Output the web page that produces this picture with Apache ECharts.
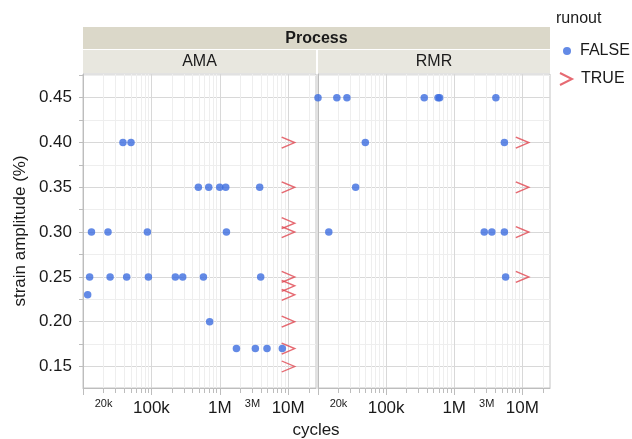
<!DOCTYPE html>
<html><head><meta charset="utf-8">
<script src="https://cdn.jsdelivr.net/npm/echarts@6/dist/echarts.min.js"></script>
<style>html,body{margin:0;padding:0;background:#fff}#c{width:632px;height:439px}</style>
</head><body><div id="c"></div>
<script>
// ---- data ----
const panels = ['AMA', 'RMR'];
const amaFalseCycles = [38400, 50300, 486000, 689000, 997000, 1220000, 3830000, 13300, 23200, 87400, 1250000, 12500, 24900, 43500, 90400, 224000, 287000, 576000, 3960000, 11700, 711000, 1750000, 3310000, 4900000, 8200000];
const amaFalseStrain = [0.40, 0.40, 0.35, 0.35, 0.35, 0.35, 0.35, 0.30, 0.30, 0.30, 0.30, 0.25, 0.25, 0.25, 0.25, 0.25, 0.25, 0.25, 0.25, 0.23, 0.20, 0.17, 0.17, 0.17, 0.17];
const amaTrueCycles = [1e7, 1e7, 1e7, 1e7, 1e7, 1e7, 1e7, 1e7, 1e7, 1e7];
const amaTrueStrain = [0.40, 0.35, 0.31, 0.30, 0.25, 0.24, 0.23, 0.20, 0.17, 0.15];
const rmrFalseCycles = [10000, 18900, 26600, 363000, 579000, 611000, 4090000, 49500, 5450000, 35700, 14400, 2760000, 3570000, 5450000, 5690000];
const rmrFalseStrain = [0.45, 0.45, 0.45, 0.45, 0.45, 0.45, 0.45, 0.40, 0.40, 0.35, 0.30, 0.30, 0.30, 0.30, 0.25];
const rmrTrueCycles = [1e7, 1e7, 1e7, 1e7];
const rmrTrueStrain = [0.40, 0.35, 0.30, 0.25];

const xMajorTicks = [1e4, 1e5, 1e6, 1e7];
const xMajorLabels = [1e5, 1e6, 1e7];
const xMinorTicks = [2e4,3e4,4e4,5e4,6e4,7e4,8e4,9e4, 2e5,3e5,4e5,5e5,6e5,7e5,8e5,9e5, 2e6,3e6,4e6,5e6,6e6,7e6,8e6,9e6, 2e7];
const xMinorLabels = [2e4, 3e6];
const yMajorTicks = [0.15, 0.20, 0.25, 0.30, 0.35, 0.40, 0.45];
const yMinorTicks = [0.175, 0.225, 0.275, 0.325, 0.375, 0.425, 0.475];

// ---- styling ----
const FONT = '"Liberation Sans", Arial, Helvetica, sans-serif';
const TXT = '#1a1a1a';
const AXIS = '#bdbdbd';
const MAJ = '#d8d8d8';
const MIN = '#eeeeee';
const BLUE = '#3c6de0';
const RED = '#e0454f';
const ARROW = 'path://M0,0L10,5L0,10';
const X_MIN = 1e4, X_MAX = 2.55e7, Y_MIN = 0.126, Y_MAX = 0.4765;

function fmtCycles(v) {
  if (v >= 1e6) return Math.round(v / 1e6) + 'M';
  return Math.round(v / 1e3) + 'k';
}
function zip(a, b) { return a.map((v, i) => [v, b[i]]); }

const gridDefs = [
  { left: 83, top: 74, width: 233, height: 314 },
  { left: 318, top: 74, width: 232, height: 314 }
];

const grids = gridDefs.map(g => Object.assign({}, g, {
  show: true, borderColor: '#c4c4c4', borderWidth: 1, backgroundColor: '#fff', containLabel: false
}));

const xAxes = [], yAxes = [];
panels.forEach((p, i) => {
  xAxes.push({
    gridIndex: i, type: 'log', logBase: 10, min: X_MIN, max: X_MAX, position: 'bottom',
    axisLine: { show: true, lineStyle: { color: AXIS, width: 1 } },
    axisTick: { show: true, customValues: xMajorTicks, length: 7, lineStyle: { color: AXIS } },
    axisLabel: { customValues: xMajorLabels, formatter: fmtCycles, fontSize: 17, margin: 12, color: TXT, fontFamily: FONT },
    splitLine: { show: true, lineStyle: { color: MAJ, width: 1 } }
  });
  xAxes.push({
    gridIndex: i, type: 'log', logBase: 10, min: X_MIN, max: X_MAX, position: 'bottom',
    axisLine: { show: false },
    axisTick: { show: true, customValues: xMinorTicks, length: 5, lineStyle: { color: AXIS } },
    axisLabel: { customValues: xMinorLabels, formatter: fmtCycles, fontSize: 11, margin: 10, color: TXT, fontFamily: FONT },
    splitLine: { show: true, lineStyle: { color: MIN, width: 1 } }
  });
  yAxes.push({
    gridIndex: i, type: 'value', min: Y_MIN, max: Y_MAX, position: 'left',
    name: i === 0 ? 'strain amplitude (%)' : '', nameLocation: 'middle', nameGap: 54,
    nameTextStyle: { fontSize: 17, color: TXT, fontFamily: FONT },
    axisLine: { show: true, lineStyle: { color: AXIS, width: 1 } },
    axisTick: { show: i === 0, customValues: yMajorTicks, length: 4, lineStyle: { color: AXIS } },
    axisLabel: { show: i === 0, customValues: yMajorTicks, formatter: v => v.toFixed(2), fontSize: 17, margin: 11, color: TXT, fontFamily: FONT },
    splitLine: { show: true, lineStyle: { color: MAJ, width: 1 } }
  });
  yAxes.push({
    gridIndex: i, type: 'value', min: Y_MIN, max: Y_MAX, position: 'left',
    axisLine: { show: false },
    axisTick: { show: i === 0, customValues: yMinorTicks, length: 4, lineStyle: { color: AXIS } },
    axisLabel: { show: false },
    splitLine: { show: true, lineStyle: { color: MIN, width: 1 } }
  });
});

const sets = [
  [amaFalseCycles, amaFalseStrain, amaTrueCycles, amaTrueStrain],
  [rmrFalseCycles, rmrFalseStrain, rmrTrueCycles, rmrTrueStrain]
];
const series = [];
sets.forEach((s, i) => {
  series.push({
    type: 'scatter', name: 'FALSE', xAxisIndex: i * 2, yAxisIndex: i * 2,
    data: zip(s[0], s[1]), symbol: 'circle', symbolSize: 7.5,
    itemStyle: { color: BLUE }, z: 5
  });
  series.push({
    type: 'scatter', name: 'TRUE', xAxisIndex: i * 2, yAxisIndex: i * 2,
    data: zip(s[2], s[3]), symbol: ARROW, symbolSize: [13, 11],
    itemStyle: { color: 'rgba(0,0,0,0)', borderColor: RED, borderWidth: 1.5 }, z: 5
  });
});

const option = {
  animation: false,
  backgroundColor: '#fff',
  textStyle: { fontFamily: FONT },
  title: {
    text: 'runout', left: 551, top: 6,
    textStyle: { fontSize: 16, fontWeight: 'normal', color: TXT, fontFamily: FONT }
  },
  legend: [
    {
      data: ['FALSE'], orient: 'vertical', left: 558, top: 38, itemWidth: 14, itemHeight: 8,
      icon: 'circle',
      textStyle: { fontSize: 16, color: TXT, fontFamily: FONT, padding: [0, 0, 0, 1] }
    },
    {
      data: ['TRUE'], orient: 'vertical', left: 554, top: 66, itemWidth: 14, itemHeight: 12,
      textStyle: { fontSize: 16, color: TXT, fontFamily: FONT, padding: [0, 0, 0, 3] }
    }
  ],
  grid: grids,
  xAxis: xAxes,
  yAxis: yAxes,
  series: series,
  graphic: [
    { type: 'rect', shape: { x: 83, y: 27, width: 467, height: 22 }, style: { fill: '#dbd8c9' }, silent: true },
    { type: 'rect', shape: { x: 83, y: 50, width: 233, height: 23 }, style: { fill: '#e8e7df' }, silent: true },
    { type: 'rect', shape: { x: 318, y: 50, width: 232, height: 23 }, style: { fill: '#e8e7df' }, silent: true },
    { type: 'text', style: { text: 'Process', x: 316.5, y: 38.5, align: 'center', verticalAlign: 'middle', font: 'bold 16px ' + FONT, fill: TXT } },
    { type: 'text', style: { text: panels[0], x: 199.5, y: 62, align: 'center', verticalAlign: 'middle', font: '16px ' + FONT, fill: TXT } },
    { type: 'text', style: { text: panels[1], x: 434, y: 62, align: 'center', verticalAlign: 'middle', font: '16px ' + FONT, fill: TXT } },
    { type: 'text', style: { text: 'cycles', x: 316, y: 430, align: 'center', verticalAlign: 'middle', font: '17px ' + FONT, fill: TXT } }
  ]
};

const chart = echarts.init(document.getElementById('c'), null, { renderer: 'canvas' });
chart.setOption(option);
</script>
</body></html>
